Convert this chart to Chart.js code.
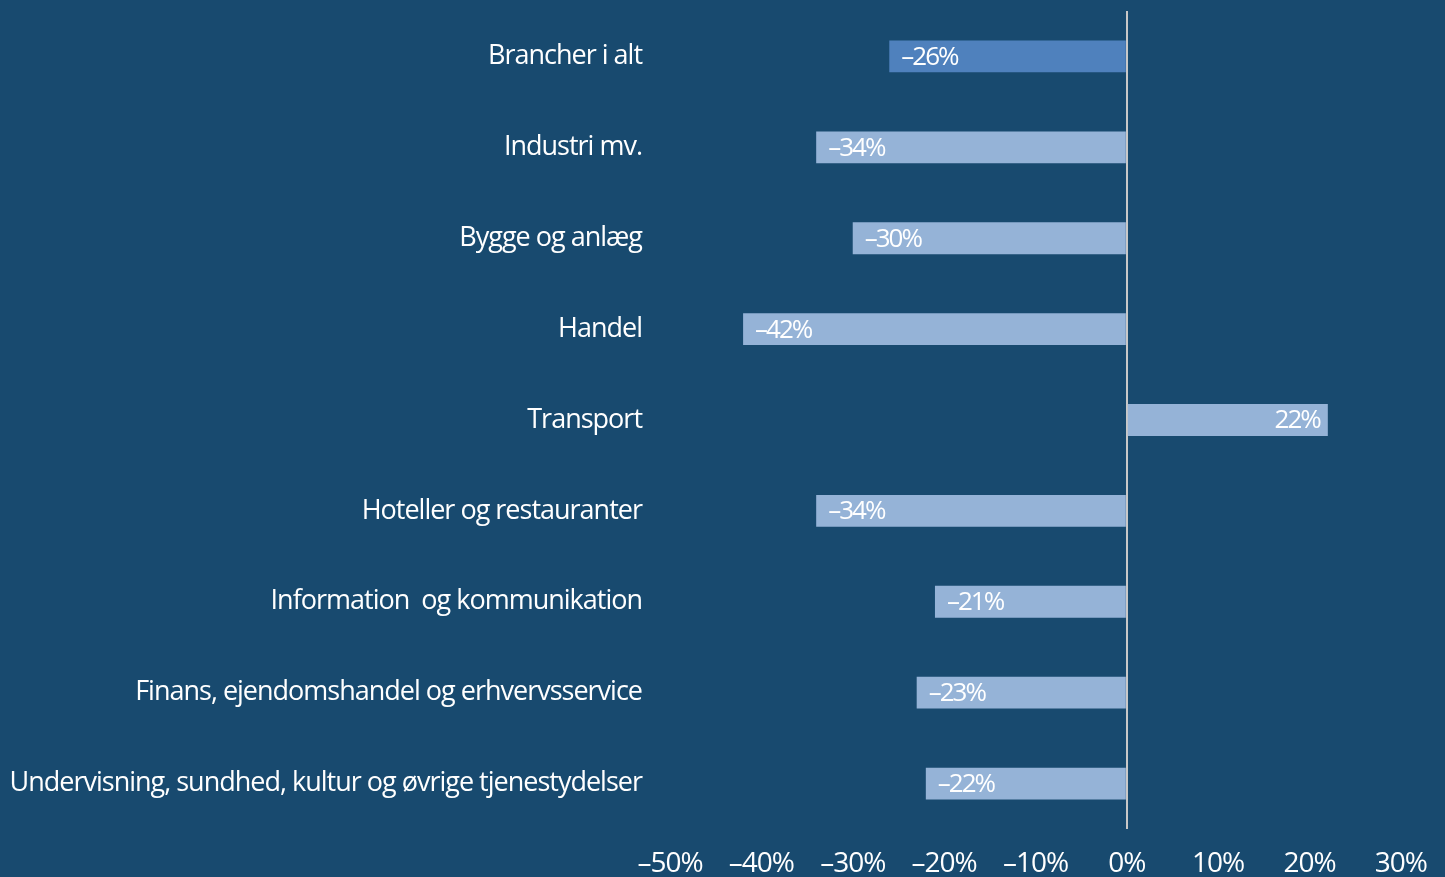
<!DOCTYPE html>
<html>
<head>
<meta charset="utf-8">
<script src="https://cdn.jsdelivr.net/npm/chart.js@4"></script>
<style>
  html, body { margin: 0; padding: 0; background: #184a6f; }
  #wrap { width: 1445px; height: 877px; }
</style>
</head>
<body>
<div id="wrap"><canvas id="myChart"></canvas></div>
<script>
var Labels = [
    'Brancher i alt',
    'Industri mv.',
    'Bygge og anlæg',
    'Handel',
    'Transport',
    'Hoteller og restauranter',
    'Information  og kommunikation',
    'Finans, ejendomshandel og erhvervsservice',
    'Undervisning, sundhed, kultur og øvrige tjenestydelser'
];
var Values = [-26, -34, -30, -42, 22, -34, -21, -23, -22];
var TickValues = [-50, -40, -30, -20, -10, 0, 10, 20, 30];

var FONT = '"Open Sans", sans-serif';

function pct(v) {
    return (v < 0 ? '\u2013' : '') + Math.abs(v) + '%';
}

// tighter text, the original uses a condensed face
var tightText = {
    id: 'tightText',
    beforeLayout: function (chart) { chart.ctx.letterSpacing = '-1px'; },
    beforeDraw: function (chart) { chart.ctx.letterSpacing = '-1px'; }
};

// value labels inside the bars
var valueLabels = {
    id: 'valueLabels',
    afterDatasetsDraw: function (chart) {
        var ctx = chart.ctx;
        var meta = chart.getDatasetMeta(0);
        ctx.save();
        ctx.letterSpacing = '-2px';
        ctx.font = '26px ' + FONT;
        ctx.fillStyle = '#ffffff';
        ctx.textBaseline = 'middle';
        meta.data.forEach(function (bar, i) {
            var v = Values[i];
            if (v < 0) {
                ctx.textAlign = 'left';
                ctx.fillText(pct(v), bar.x + 12, bar.y + 1);
            } else {
                ctx.textAlign = 'right';
                ctx.fillText(pct(v), bar.x - 8, bar.y + 1);
            }
        });
        ctx.restore();
    }
};

var ctx = document.getElementById('myChart').getContext('2d');
var myChart = new Chart(ctx, {
    type: 'bar',
    data: {
        labels: Labels,
        datasets: [{
            data: Values,
            backgroundColor: Values.map(function (v, i) { return i === 0 ? '#4f81bd' : '#95b3d7'; }),
            borderWidth: 0,
            barPercentage: 0.35,
            categoryPercentage: 1
        }]
    },
    plugins: [tightText, valueLabels],
    options: {
        indexAxis: 'y',
        responsive: true,
        maintainAspectRatio: false,
        animation: false,
        layout: {
            padding: { top: 11, right: 43, left: 0, bottom: 0 }
        },
        plugins: {
            legend: { display: false },
            tooltip: { enabled: false }
        },
        scales: {
            x: {
                min: -50,
                max: 30,
                afterBuildTicks: function (scale) {
                    scale.ticks = TickValues.map(function (v) { return { value: v }; });
                },
                afterFit: function (scale) {
                    scale.height = 48;
                },
                border: { display: false },
                grid: {
                    drawTicks: false,
                    color: function (c) { return c.tick && c.tick.value === 0 ? '#c8c8c8' : 'rgba(0,0,0,0)'; },
                    lineWidth: 2
                },
                ticks: {
                    color: '#ffffff',
                    padding: 18,
                    font: { family: FONT, size: 28 },
                    callback: function (v) { return pct(v); }
                }
            },
            y: {
                afterFit: function (scale) {
                    scale.width = 670;
                    scale.paddingTop = 0;
                    scale.paddingBottom = 0;
                },
                border: { display: false },
                grid: { display: false, drawTicks: false },
                ticks: {
                    color: '#ffffff',
                    padding: 28,
                    font: { family: FONT, size: 27 }
                }
            }
        }
    }
});
</script>
</body>
</html>
